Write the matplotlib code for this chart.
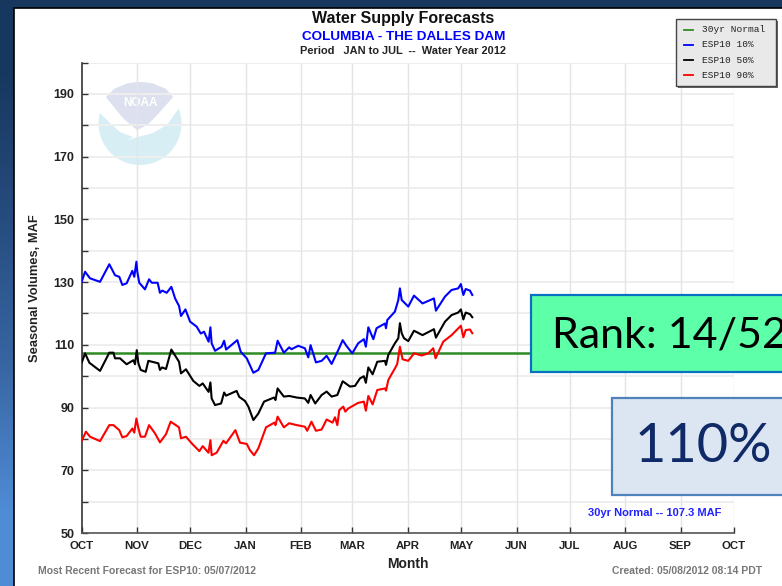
"""Water supply forecast slide: The Dalles seasonal volumes, water year 2012."""

import matplotlib
matplotlib.use("Agg")
import matplotlib.pyplot as plt
from matplotlib.patches import Circle, Polygon, Rectangle
import numpy as np

months = ["OCT", "NOV", "DEC", "JAN", "FEB", "MAR", "APR", "MAY", "JUN", "JUL", "AUG", "SEP", "OCT"]
month_days = [0, 31, 61, 92, 123, 152, 183, 213, 244, 274, 305, 336, 366]
y_major = [50, 70, 90, 110, 130, 150, 170, 190]
y_minor = [60, 80, 100, 120, 140, 160, 180, 200]

normal_value = 107.3

blue_days = [0.1, 2, 4.8, 10.4, 15.6, 18.8, 21.2, 22.9, 25.3, 28.5, 29.6, 30.8, 31.3, 32.4, 35.6, 37.9,
             39.4, 42.7, 44, 45.3, 47.8, 50.4, 52.5, 54.7, 55.8, 58.3, 60.9, 64.6, 66.9, 68.7, 71.3, 72.3,
             73, 74.9, 78.6, 80, 81.1, 87.4, 89.3, 92.7, 96.4, 99.2, 103.5, 108.6, 110, 113.5, 116.5, 117.8,
             121.6, 125.3, 127.2, 128.5, 131.5, 134.7, 137.5, 140.3, 144, 146.5, 148.7, 151.9, 155.2, 158.4,
             159.5, 160.9, 163.7, 165.5, 170.2, 170.8, 171.5, 175.8, 177.7, 178.6, 179.6, 183.3, 186.5, 191.3,
             197.7, 198.8, 203.9, 207.6, 211.3, 212.8, 214.2, 215.5, 217.9, 219.2]
blue_vals = [130.1, 133.3, 131.2, 130.1, 135.7, 132.2, 131.7, 129.1, 129.6, 133.6, 131.7, 136.5, 133.3, 129.8, 127.7, 130.9,
             129.8, 129.8, 126.6, 127.3, 126.6, 128.5, 124.8, 122.4, 119.2, 121.3, 117.4, 115.8, 113.6, 114.2, 111, 115.6,
             110.5, 108.1, 109.4, 111.3, 108.5, 111.5, 107.8, 105.7, 101.1, 102, 107.3, 107.5, 111.3, 107.5, 109.2, 108.6,
             109.7, 108.9, 106, 109.9, 104.4, 104.9, 106.5, 103.9, 108.3, 111.5, 109.6, 107.3, 110.5, 111.8,
             109.4, 115.6, 111.8, 115.3, 116.8, 115.3, 117.9, 120.6, 124.3, 128, 124.3, 122.2, 125.7, 123.2,
             124.8, 120.9, 125.4, 127.5, 128, 129.4, 125.9, 127.8, 127.3, 125.9]

black_days = [0.1, 2, 4.4, 10.4, 15.6, 17.9, 18.8, 21.6, 25.3, 29.1, 30, 31, 31.9, 33.2, 36, 37.5,
              43.1, 44, 45.2, 47.4, 50.4, 54.7, 55.8, 58.6, 62.7, 66.1, 68, 71.3, 72.3, 73, 74.9, 78.3,
              80, 81.1, 87, 88.5, 91.7, 93.6, 96.4, 99.2, 102.4, 108, 108.8, 110, 113.5, 116.5, 120.7,
              125.3, 127.2, 128.5, 131.1, 134.7, 137.5, 140.3, 143.5, 146.5, 150.6, 153.4, 156.2, 158.4,
              159.5, 160.9, 163.3, 165.9, 170.2, 170.8, 172.1, 175.8, 177.7, 178.6, 179.6, 180.9, 183.3, 186.5,
              191.3, 197.7, 198.8, 203.9, 207.6, 211.3, 212.8, 214.2, 215.5, 217.9, 219.2]
black_vals = [104.3, 107.3, 104.3, 101.7, 107.5, 107.5, 105.7, 105.7, 103.8, 105.1, 103.8, 108.3, 104.1, 102, 101.4, 104.9,
              104.1, 102, 102.8, 102.3, 108.5, 104.6, 100.9, 102.2, 98.5, 96.9, 97.7, 95, 98, 92.9, 90.8, 91.3,
              94.8, 93.8, 95.3, 93.4, 92.1, 90.3, 86, 88.1, 91.9, 93.2, 92.4, 96.1, 93.5, 93.7, 93.2,
              92.9, 91.5, 94, 91.3, 94, 95.1, 93.5, 94, 98.4, 96.7, 96.9, 99.3, 100,
              97.9, 102.8, 100.6, 104.6, 104.9, 103.6, 106.8, 110.5, 112.1, 116.9, 113.7, 112.1, 111.2, 114.5,
              113.1, 115, 112.3, 117.4, 119.5, 120.3, 121.3, 118.1, 120.3, 119.8, 118.8]

red_days = [0.1, 2.5, 4.8, 10.4, 15.6, 17.9, 21.2, 22.9, 25.3, 28.5, 29.6, 30.8, 31.9, 33.2, 35.6, 37.9,
            41.2, 44, 47.4, 50, 54.7, 55.8, 58.6, 61.8, 66.1, 68, 71.2, 72.3, 73, 75.8, 79.6, 81.1,
            86.3, 88.9, 92.7, 94.5, 96.8, 99.2, 103.5, 108.2, 108.8, 110, 113.5, 116.5, 120.7, 125.3, 126.6,
            129, 131.5, 134.7, 137.5, 140.8, 142.2, 143.5, 144.6, 146.8, 148, 149.6, 155.2, 158.4, 159.5,
            160.9, 163.3, 165.9, 170.2, 170.8, 172.1, 175.8, 177.1, 178.6, 180.1, 183.3, 186.5, 190.8, 194.5,
            197.3, 198.6, 202.9, 207.6, 212.8, 214.2, 215.5, 217.9, 219.2]
red_vals = [79.4, 82.3, 80.7, 79.3, 84.4, 84.4, 82.8, 80.5, 80.9, 83.3, 82, 86.5, 83.4, 80.7, 80.7, 84.4,
            81.8, 78.9, 81.5, 85.5, 83.7, 80.2, 80.7, 78.6, 76.1, 77.7, 75.6, 79.6, 74.8, 75.6, 79.4, 78.6,
            82.8, 78.8, 78.4, 76.4, 74.8, 77, 83.7, 85.2, 84.4, 87.1, 83.7, 85, 84.4, 83.9, 82.6,
            85.5, 82.6, 83, 86.2, 85.2, 86.9, 84.4, 89.2, 90.3, 88.7, 89.7, 91.5, 91.9, 89,
            93.7, 91, 95.6, 96.1, 95.4, 98.8, 102.5, 103.9, 109.4, 105.4, 104.9, 107.3, 106.6, 107.3,
            108.9, 105.7, 111, 113.1, 116.1, 112.4, 114.7, 114.9, 113.7]

legend_labels = ["30yr Normal", "ESP10 10%", "ESP10 50%", "ESP10 90%"]
legend_colors = ["#2e8b22", "#0000ff", "#000000", "#ff0000"]

plt.rcParams["font.family"] = ["Liberation Sans", "DejaVu Sans"]
W, H = 782, 586
fig = plt.figure(figsize=(W / 100, H / 100), dpi=100)

# slide background, white panel and logo, in pixel coordinates
back = fig.add_axes([0, 0, 1, 1], zorder=0)
back.set_xlim(0, W)
back.set_ylim(H, 0)
back.axis("off")
grad = np.array([[0.09, 0.22, 0.37], [0.15, 0.30, 0.50], [0.22, 0.40, 0.64], [0.31, 0.55, 0.84]])
back.imshow(grad[:, None, :], extent=(0, W, H, 0), aspect="auto", interpolation="bilinear")
back.add_patch(Rectangle((0, 0), W, 7, color="#17375e", lw=0))
back.add_patch(Rectangle((13.5, 7.5), W, H, fc="white", ec="black", lw=1.2))

back.add_patch(Circle((140, 123.5), 41.5, fc="#d8eef5", ec="none"))
swoosh = [(90, 111), (106, 97), (123, 118), (137, 130), (147, 125), (157, 115), (173, 97), (186, 108), (179, 108),
          (167, 125), (153, 133), (127, 140), (133, 137), (120, 132), (109, 122), (99, 112)]
back.add_patch(Polygon(swoosh, fc="white", ec="none"))
dome = [(106, 97), (114, 89), (127, 83.5), (140, 82), (153, 83.5), (166, 89), (173, 97), (157, 115), (147, 125),
        (137, 130), (123, 118)]
back.add_patch(Polygon(dome, fc="#dde0ee", ec="none"))
back.text(140, 103, "NOAA", color="white", fontsize=8.5, fontweight="bold", ha="center", va="center")

# the chart itself
ax = fig.add_axes([81.5 / W, 1 - 533 / H, (734 - 81.5) / W, (533 - 62.6) / H], zorder=1)
ax.patch.set_visible(False)
ax.set_xlim(month_days[0], month_days[-1])
ax.set_ylim(50, 200)

for v in y_major + y_minor:
    ax.axhline(v, color="#eeeeee", lw=1.4, zorder=1)
for d in month_days[1:]:
    ax.axvline(d, color="#e4e4e4", lw=1.0, zorder=1)

ax.plot(month_days[:1] + month_days[-1:], [normal_value, normal_value], color=legend_colors[0], lw=1.8, zorder=2)
ax.plot(blue_days, blue_vals, color=legend_colors[1], lw=1.5, zorder=3)
ax.plot(black_days, black_vals, color=legend_colors[2], lw=1.5, zorder=3)
ax.plot(red_days, red_vals, color=legend_colors[3], lw=1.5, zorder=3)

ax.spines["top"].set_visible(False)
ax.spines["right"].set_visible(False)
ax.spines["left"].set_color("#333333")
ax.spines["bottom"].set_color("#555555")
ax.spines["left"].set_linewidth(1.2)
ax.spines["bottom"].set_linewidth(1.2)

ax.set_xticks(month_days)
ax.set_xticklabels(months, fontsize=8.2, fontweight="bold", color="#222222")
ax.set_yticks(y_major)
ax.set_yticks(y_minor, minor=True)
ax.set_yticklabels(y_major, fontsize=9, fontweight="bold", color="#222222")
ax.tick_params(axis="x", direction="in", length=4, width=1, color="#333333", pad=5.5)
ax.tick_params(axis="y", which="both", direction="in", length=4, width=1, color="#333333", pad=5)

# texts, legend and the pasted boxes, in pixel coordinates
top = fig.add_axes([0, 0, 1, 1], zorder=2)
top.set_xlim(0, W)
top.set_ylim(H, 0)
top.axis("off")

top.text(403, 18.5, "Water Supply Forecasts", fontsize=11.5, fontweight="bold", color="#111111", ha="center", va="center")
top.text(403.5, 36.5, "COLUMBIA - THE DALLES DAM", fontsize=9.7, fontweight="bold", color="#0000ff", ha="center", va="center")
top.text(403, 51, "Period   JAN to JUL  --  Water Year 2012", fontsize=7.9, fontweight="bold", color="#222222", ha="center", va="center")
top.text(35, 288, "Seasonal Volumes, MAF", fontsize=9.3, fontweight="bold", color="#222222", rotation=90, ha="center", va="center")
top.text(408, 564, "Month", fontsize=10, fontweight="bold", color="#222222", ha="center", va="center")
top.text(38, 571, "Most Recent Forecast for ESP10: 05/07/2012", fontsize=7.5, fontweight="bold", color="#777777", va="center")
top.text(762, 571, "Created: 05/08/2012 08:14 PDT", fontsize=7.45, fontweight="bold", color="#777777", ha="right", va="center")
top.text(655, 513, "30yr Normal -- 107.3 MAF", fontsize=8, fontweight="bold", color="#2222ff", ha="center", va="center")

top.add_patch(Rectangle((678, 21), 100, 67, fc="#666666", ec="none"))
top.add_patch(Rectangle((676, 19), 100, 67, fc="#e9e9e9", ec="#444444", lw=1))
for i, (label, color) in enumerate(zip(legend_labels, legend_colors)):
    row = 29.5 + i * 15.3
    top.plot([684, 693], [row, row], color=color, lw=1.3)
    top.text(702, row, label, fontsize=6.8, family="Liberation Mono", color="#222222", va="center")

top.add_patch(Rectangle((531, 295), 300, 77, fc="#5dffa8", ec="#0a70c0", lw=1.6))
top.text(552, 336, "Rank: 14/52", fontsize=31, family="Lato", color="black", va="center")
top.add_patch(Rectangle((611.5, 398), 300, 97, fc="#dce6f2", ec="#4f81bd", lw=1.6))
top.text(703, 447, "110%", fontsize=39, family="Lato", color="#0f2a66", ha="center", va="center")

fig.savefig("out.png", dpi=100)
